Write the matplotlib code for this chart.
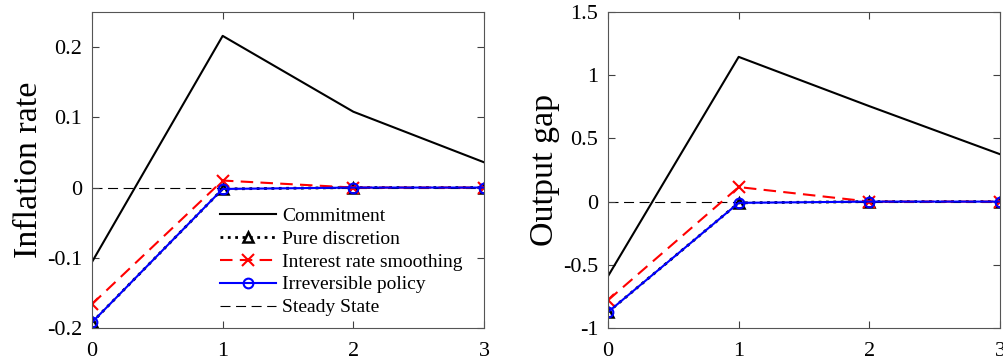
import matplotlib.pyplot as plt

plt.rcParams['font.family'] = ['Liberation Serif']

periods = [0, 1, 2, 3]

# Inflation rate
infl_commitment = [-0.106, 0.216, 0.108, 0.036]
infl_discretion = [-0.192, -0.002, 0.0, 0.0]
infl_smoothing = [-0.166, 0.010, 0.0, 0.0]
infl_irreversible = [-0.192, -0.002, 0.0, 0.0]

# Output gap
gap_commitment = [-0.59, 1.145, 0.755, 0.375]
gap_discretion = [-0.874, -0.01, 0.0, 0.0]
gap_smoothing = [-0.78, 0.115, 0.0, 0.0]
gap_irreversible = [-0.874, -0.01, 0.0, 0.0]

steady = [0, 0, 0, 0]

fig = plt.figure(figsize=(10.04, 3.64), dpi=100)
ax1 = fig.add_axes([92 / 1004, 1 - 328 / 364, 392 / 1004, 316 / 364])
ax2 = fig.add_axes([608 / 1004, 1 - 328 / 364, 392 / 1004, 316 / 364])


def draw(ax, com, dis, smo, irr, ylabel, ylim, yticks, yticklabels):
    ax.plot(periods, com, color='black', lw=1.5, label='Commitment')
    ax.plot(periods, dis, color='black', lw=2, ls=':', marker='^', ms=7,
            mfc='none', mew=1.8, label='Pure discretion')
    ax.plot(periods, smo, color='red', lw=1.5, ls=(0, (6, 3.5)), marker='x',
            ms=8, mew=1.5, label='Interest rate smoothing')
    ax.plot(periods, irr, color='blue', lw=1.5, marker='o', ms=7,
            mfc='none', mew=1.5, label='Irreversible policy')
    ax.plot(periods, steady, color='black', lw=0.8, ls=(0, (9, 5)),
            label='Steady State', zorder=1)
    ax.set_xlim(0, 3)
    ax.set_ylim(*ylim)
    ax.set_xticks(periods)
    ax.set_yticks(yticks)
    ax.set_yticklabels(yticklabels)
    ax.set_ylabel(ylabel, fontsize=24.5, labelpad=2)
    ax.tick_params(direction='in', top=True, right=True, labelsize=16,
                   length=5, color='#404040')
    ax.tick_params(axis='x', pad=10)
    ax.tick_params(axis='y', pad=7)
    for s in ax.spines.values():
        s.set_color('#555555')
        s.set_linewidth(0.8)


draw(ax1, infl_commitment, infl_discretion, infl_smoothing, infl_irreversible,
     'Inflation rate', (-0.2, 0.25), [-0.2, -0.1, 0, 0.1, 0.2],
     ['-0.2', '-0.1', '0', '0.1', '0.2'])
draw(ax2, gap_commitment, gap_discretion, gap_smoothing, gap_irreversible,
     'Output gap', (-1, 1.5), [-1, -0.5, 0, 0.5, 1, 1.5],
     ['-1', '-0.5', '0', '0.5', '1', '1.5'])

ax1.legend(loc='lower right', bbox_to_anchor=(0.946, 0.037), frameon=False,
           fontsize=14, handlelength=2.9, labelspacing=0.27, handletextpad=0.3,
           borderaxespad=0.0, borderpad=0.0)

fig.savefig('out.png', dpi=100)
